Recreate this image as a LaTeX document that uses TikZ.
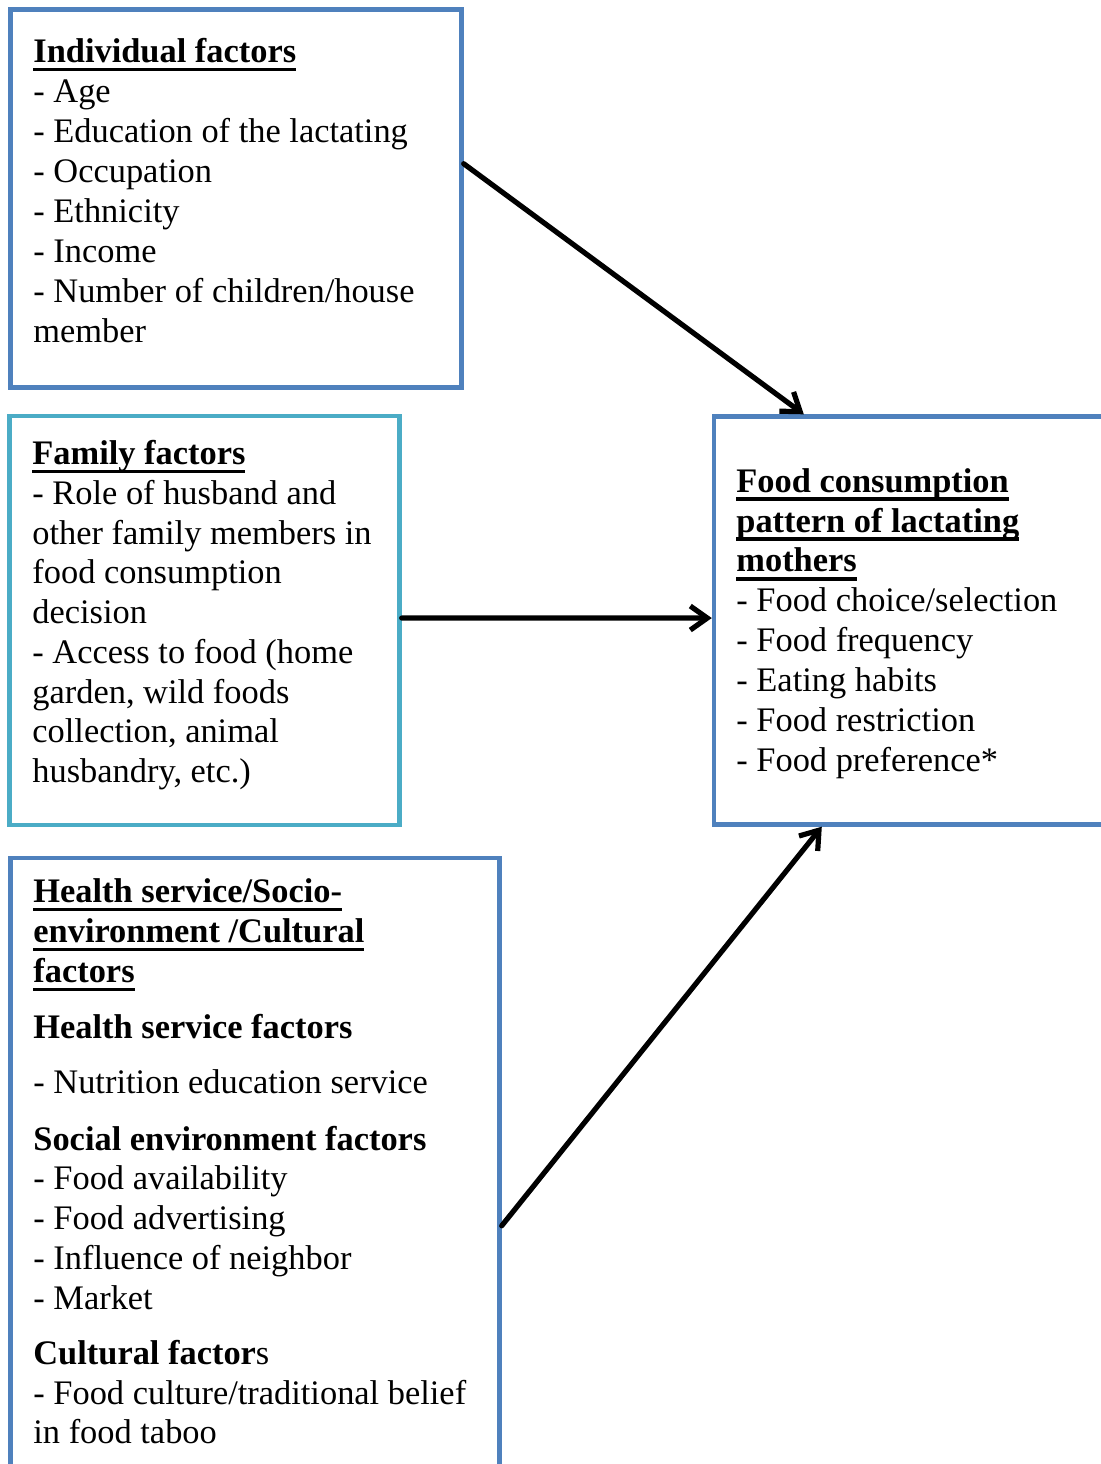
\documentclass[tikz,border=0pt]{standalone}
\usepackage{fontspec}
\setmainfont{Liberation Serif}
\usetikzlibrary{arrows.meta,fit,calc}
\definecolor{boxblue}{HTML}{4F81BD}
\definecolor{boxteal}{HTML}{4BACC6}
\newcommand{\hdline}[1]{{\bfseries\setbox0\hbox{#1}\rlap{\rule[-4.4pt]{\wd0}{1.8pt}}\box0}}
\tikzset{
  box/.style={draw=boxblue, line width=2.2pt, inner sep=0pt},
  tealbox/.style={box, draw=boxteal},
  txt/.style={anchor=base west, inner sep=0pt, font=\fontsize{17.2pt}{20pt}\selectfont},
  arr/.style={line width=2.6pt, line cap=round, -{Straight Barb[length=8.5pt,width=12pt]}}
}
\begin{document}
\begin{tikzpicture}[x=0.5pt,y=-0.5pt]
\useasboundingbox (0,0) rectangle (1101,1464);
\clip (0,0) rectangle (1101,1464);
% boxes
\coordinate (b1a) at (10.5,9.5);  \coordinate (b1b) at (461.5,387.5);
\coordinate (b2a) at (9.5,416);   \coordinate (b2b) at (399.5,825);
\coordinate (b3a) at (10.5,858);  \coordinate (b3b) at (499.5,1500);
\coordinate (b4a) at (714,416.5); \coordinate (b4b) at (1150,824.5);
\node[box, fit=(b1a)(b1b)] (ind) {};
\node[tealbox, fit=(b2a)(b2b)] (fam) {};
\node[box, fit=(b3a)(b3b)] (hsc) {};
\node[box, fit=(b4a)(b4b)] (food) {};
% individual factors
\foreach \yy/\lbl [count=\i] in {62.5/{\hdline{Individual factors}},102.5/{- Age},142.5/{- Education of the lactating},182.5/{- Occupation},222.5/{- Ethnicity},262.5/{- Income},302.5/{- Number of children/house},342.5/{member}}
  \node[txt] (ia\i) at (33,\yy) {\lbl};
% family factors
\foreach \yy/\lbl [count=\i] in {464.5/{\hdline{Family factors}},504.25/{- Role of husband and},544/{other family members in},583.75/{food consumption},623.5/{decision},663.25/{- Access to food (home},703/{garden, wild foods},742.75/{collection, animal},782.5/{husbandry, etc.)}}
  \node[txt] (fa\i) at (32,\yy) {\lbl};
% food consumption
\foreach \yy/\lbl [count=\i] in {492.2/{\hdline{Food consumption}},532/{\hdline{pattern of lactating}},571.9/{\hdline{mothers}},611.7/{- Food choice/selection},651.5/{- Food frequency},691.4/{- Eating habits},731.3/{- Food restriction},771.3/{- Food preference*}}
  \node[txt] (fc\i) at (736,\yy) {\lbl};
% health service / socio-environment / cultural
\foreach \yy/\lbl [count=\i] in {902.5/{\hdline{Health service/Socio-}},942.5/{\hdline{environment /Cultural}},982.5/{\hdline{factors}},1038/{\textbf{Health service factors}},1093/{- Nutrition education service},1150/{\textbf{Social environment factors}},1189.5/{- Food availability},1229.5/{- Food advertising},1269.5/{- Influence of neighbor},1309/{- Market},1364.5/{\textbf{Cultural factor}s},1404.5/{- Food culture/traditional belief},1443.5/{in food taboo}}
  \node[txt] (hs\i) at (33,\yy) {\lbl};
% arrows
\draw[arr] ($(ind.north east)!0.409!(ind.south east)$) -- ($(food.north west)+(92,0)$);
\draw[arr] ($(fam.north east)!0.494!(fam.south east)$) -- ($(food.north west)!0.494!(food.south west)$);
\draw[arr] ($(hsc.north east)+(0,370)$) -- ($(food.south west)+(110,0)$);
\end{tikzpicture}
\end{document}
